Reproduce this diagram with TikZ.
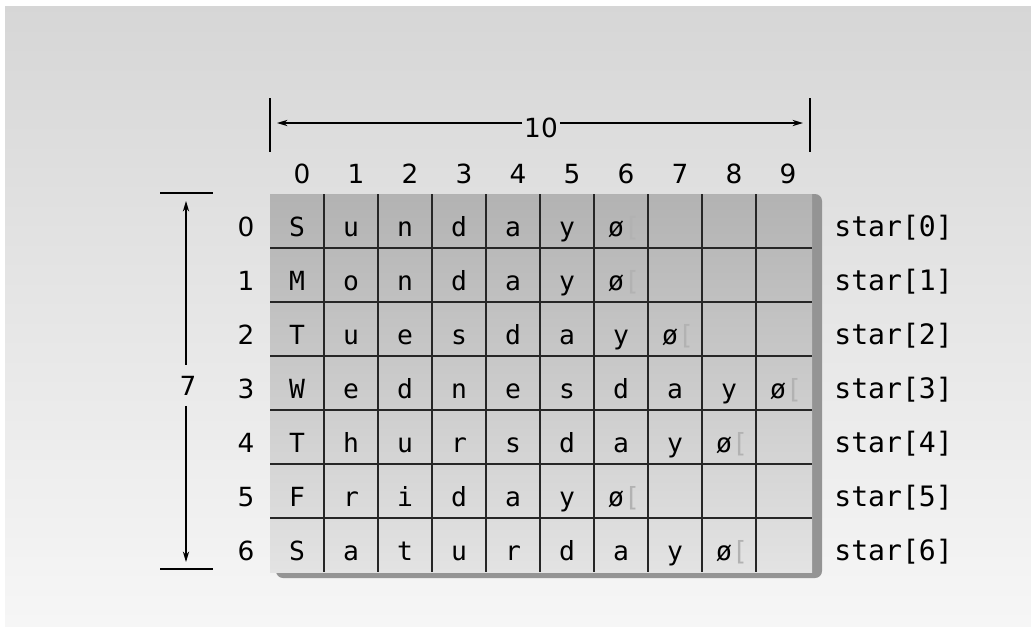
\documentclass[tikz,border=0pt]{standalone}
\usepackage{fontspec}
\setmainfont{DejaVu Sans}
\newfontfamily\monofont{DejaVu Sans Mono}
\usetikzlibrary{arrows.meta}
\definecolor{bgtop}{gray}{0.84}
\definecolor{bgbottom}{gray}{0.965}
\definecolor{gridtop}{gray}{0.70}
\definecolor{gridbottom}{gray}{0.89}
\definecolor{gridshadow}{gray}{0.58}

\begin{document}
\begin{tikzpicture}[x=0.02cm, y=-0.02cm, >={Stealth[length=6pt,width=3.6pt]},
    num/.style={font=\fontsize{15}{18}\selectfont, inner sep=1pt, anchor=base},
    letter/.style={font=\monofont\fontsize{15}{18}\selectfont, inner sep=0pt, anchor=base},
    arrname/.style={font=\monofont\fontsize{16}{19}\selectfont, anchor=base west, inner sep=0pt},
    gridline/.style={line width=0.9pt, black!85},
    dim/.style={line width=0.7pt}]
  \useasboundingbox (0,0) rectangle (1031,626);
  % background
  \fill[white] (0,0) rectangle (1031,626);
  \shade[top color=bgtop, bottom color=bgbottom] (5,6) rectangle (1031,626);
  % the array with its shadow
  \fill[gridshadow, rounded corners=4pt] (276,194) rectangle (822,578);
  \shade[top color=gridtop, bottom color=gridbottom] (270,194) rectangle (812,572);
  \foreach \c in {1,...,9}
    \draw[gridline] (270+54*\c,194) -- (270+54*\c,572);
  \foreach \r in {1,...,6}
    \draw[gridline] (270,194+54*\r) -- (812,194+54*\r);
  % indices and names
  \foreach \c in {0,...,9}
    \node[num] (col\c) at (302+54*\c,183) {\c};
  \foreach \r in {0,...,6}{
    \node[num] (row\r) at (246,236+54*\r) {\r};
    \node[arrname] (star\r) at (834,236+54*\r) {star[\r]};
  }
  % the strings
  \foreach \r/\word/\n in {0/{S,u,n,d,a,y}/6, 1/{M,o,n,d,a,y}/6,
      2/{T,u,e,s,d,a,y}/7, 3/{W,e,d,n,e,s,d,a,y}/9, 4/{T,h,u,r,s,d,a,y}/8,
      5/{F,r,i,d,a,y}/6, 6/{S,a,t,u,r,d,a,y}/8}{
    \foreach \ch [count=\k from 0] in \word
      \node[letter] (cell\r-\k) at (297+54*\k,236+54*\r) {\ch};
    \node[letter] (end\r) at (300+54*\n,236+54*\r) {ø\textcolor{gray!60}{[}};
  }
  % width
  \draw[dim] (270,98) -- (270,152);
  \draw[dim] (810,98) -- (810,152);
  \node[num] (ten) at (541,137) {10};
  \coordinate (wl) at (277,123);
  \coordinate (wr) at (803,123);
  \draw[dim,->] (ten.west |- wl) -- (wl);
  \draw[dim,->] (ten.east |- wr) -- (wr);
  % height
  \draw[dim] (160,193) -- (213,193);
  \draw[dim] (160,569) -- (213,569);
  \node[num, inner sep=6pt] (seven) at (188,395) {7};
  \coordinate (ht) at (186,201);
  \coordinate (hb) at (186,562);
  \draw[dim,->] (seven.north -| ht) -- (ht);
  \draw[dim,->] (seven.south -| hb) -- (hb);
\end{tikzpicture}
\end{document}
